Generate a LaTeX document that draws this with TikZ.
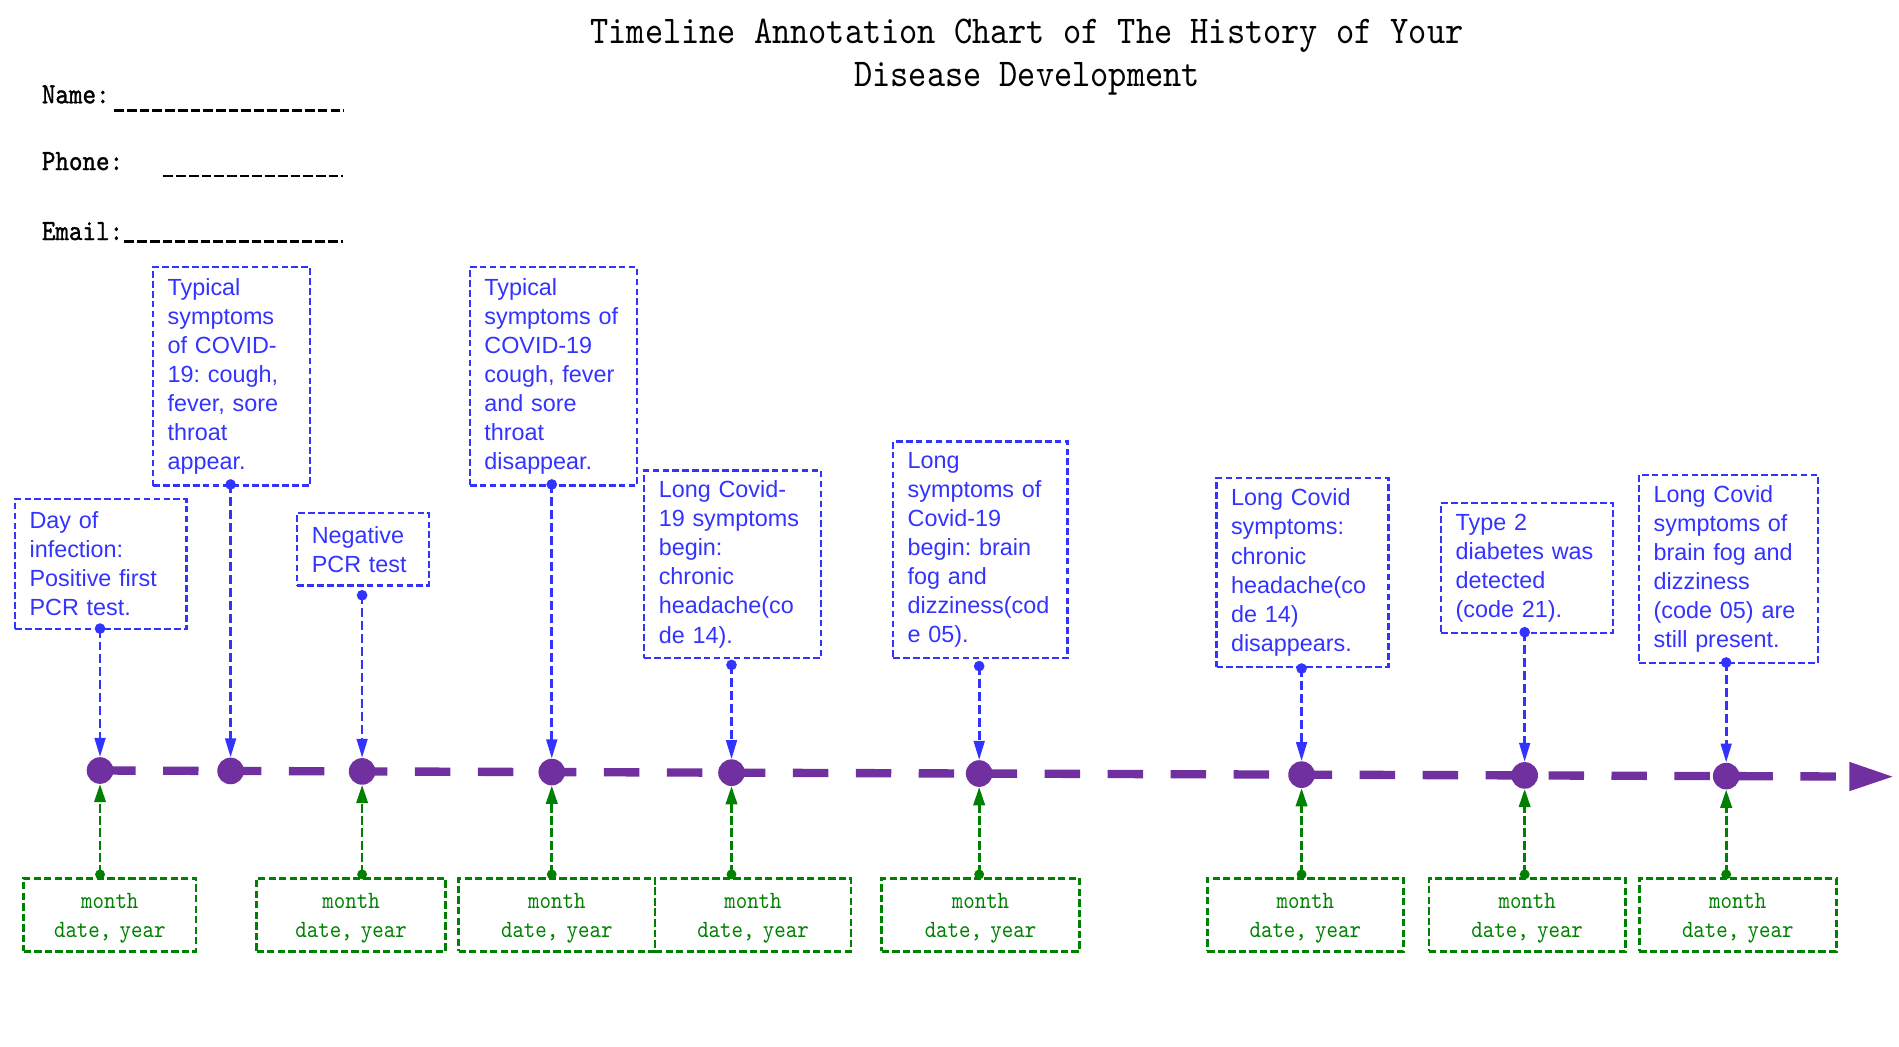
\documentclass[tikz,border=0pt]{standalone}
\usepackage{fontspec}
\usetikzlibrary{arrows.meta}
\newfontfamily\boxsans{Liberation Sans}
\newfontfamily\simmono[FakeStretch=0.88]{lmmono10-regular.otf}
\newfontfamily\simmonob[FakeStretch=0.88,FakeBold=1.2]{lmmono10-regular.otf}
\definecolor{bblue}{RGB}{51,51,255}
\definecolor{ppurple}{RGB}{112,48,160}
\definecolor{ggreen}{RGB}{0,128,0}
\tikzset{
  ttl/.style={font={\simmono\fontsize{32.5pt}{36pt}\selectfont}, anchor=base, inner sep=0pt},
  lbl/.style={font={\simmonob\fontsize{24.2pt}{28pt}\selectfont}, anchor=base west, inner sep=0pt},
  uline/.style={draw=black, line width=2.2pt, dash pattern=on 8pt off 2.5pt},
  bbox/.style={draw=bblue, line width=1.9pt, dash pattern=on 5.5pt off 2.7pt, text=bblue,
    font={\boxsans\fontsize{19.3pt}{24pt}\selectfont\frenchspacing}, align=left, anchor=north west,
    inner xsep=12pt, inner ysep=0pt},
  gbox/.style={draw=ggreen, line width=2.2pt, dash pattern=on 6pt off 2.7pt, text=ggreen,
    font={\simmono\fontsize{20.5pt}{24pt}\selectfont\frenchspacing}, align=center, anchor=north west,
    inner xsep=4pt, inner ysep=0pt, minimum height=60.5pt},
  pdot/.style={circle, inner sep=0pt, minimum size=22pt},
  timeline/.style={draw=ppurple, line width=6.9pt, dash pattern=on 29.3pt off 22.7pt,
    -{Triangle[length=37pt,width=22pt]}},
  bconn/.style={draw=bblue, line width=2.2pt, dash pattern=on 7.4pt off 3.3pt,
    -{Triangle[length=15.7pt,width=8.8pt]}},
  gconn/.style={draw=ggreen, line width=2.2pt, dash pattern=on 7.4pt off 2.8pt,
    -{Triangle[length=15pt,width=9.4pt]}},
}
\newcommand{\mdy}{\rule{0pt}{18pt}month\\date, year}
\begin{document}
\frenchspacing
\begin{tikzpicture}[x=1pt,y=-1pt]
\useasboundingbox (0,0) rectangle (1568,864.5);

% title
\node[ttl] (t1) at (848,35.8) {Timeline Annotation Chart of The History of Your};
\node[ttl] (t2) at (848,71.6) {Disease Development};

% form fields
\node[lbl] (nm) at (34.4,85.3) {Name:};
\node[lbl] (ph) at (34.4,140.4) {Phone:};
\node[lbl] (em) at (34.4,198.2) {Email:};
\coordinate (nm1) at (94.4,91.4);  \coordinate (nm2) at (283.5,91.4);
\coordinate (ph1) at (134.9,145.3); \coordinate (ph2) at (283.5,145.3);
\coordinate (em1) at (102.7,199.6); \coordinate (em2) at (283.5,199.6);
\draw[uline] (nm1) -- (nm2);
\draw[uline] (ph1) -- (ph2);
\draw[uline] (em1) -- (em2);

% timeline
\coordinate (tip) at (1564,641.3);
\node[pdot] (d1) at (82.6,636.2) {};
\node[pdot] (d2) at (190.4,636.57) {};
\node[pdot] (d3) at (299,636.95) {};
\node[pdot] (d4) at (455.6,637.48) {};
\node[pdot] (d5) at (604,638.0) {};
\node[pdot] (d6) at (808.5,638.7) {};
\node[pdot] (d7) at (1074.7,639.62) {};
\node[pdot] (d8) at (1258.9,640.25) {};
\node[pdot] (d9) at (1425.3,640.82) {};
\draw[timeline] (d1.center) -- (tip);
\foreach \i in {1,...,9}
  \fill[ppurple] (d\i.center) circle[radius=11pt];

% blue annotation boxes
\node[bbox, text width=117.5pt, minimum height=107.5pt] (b1) at (11.5,411)
  {Day of\\infection:\\Positive first\\PCR test.};
\node[bbox, text width=105.5pt, minimum height=180.5pt] (b2) at (125.5,219.5)
  {Typical\\symptoms\\of COVID-\\19: cough,\\fever, sore\\throat\\appear.};
\node[bbox, text width=84.5pt, minimum height=60pt] (b3) at (244.5,422.5)
  {Negative\\PCR test};
\node[bbox, text width=114pt, minimum height=180.5pt] (b4) at (387,219.5)
  {Typical\\symptoms of\\COVID-19\\cough, fever\\and sore\\throat\\disappear.};
\node[bbox, text width=122pt, minimum height=155pt] (b5) at (531,387.5)
  {Long Covid-\\19 symptoms\\begin:\\chronic\\headache(co\\de 14).};
\node[bbox, text width=120pt, minimum height=179pt] (b6) at (736.5,363.5)
  {Long\\symptoms of\\Covid-19\\begin: brain\\fog and\\dizziness(cod\\e 05).};
\node[bbox, text width=118pt, minimum height=155.5pt] (b7) at (1003.5,394)
  {Long Covid\\symptoms:\\chronic\\headache(co\\de 14)\\disappears.};
\node[bbox, text width=118pt, minimum height=107pt] (b8) at (1189,414.5)
  {Type 2\\diabetes was\\detected\\(code 21).};
\node[bbox, text width=123.5pt, minimum height=155.5pt] (b9) at (1352.5,391)
  {Long Covid\\symptoms of\\brain fog and\\dizziness\\(code 05) are\\still present.};

% blue connectors
\coordinate (s1) at (82.6,519);
\coordinate (s2) at (190.4,400);
\coordinate (s3) at (299,491.5);
\coordinate (s4) at (455.6,400);
\coordinate (s5) at (604,549);
\coordinate (s6) at (808.5,550);
\coordinate (s7) at (1074.7,552);
\coordinate (s8) at (1258.9,522);
\coordinate (s9) at (1425.3,547);
\foreach \i in {1,...,9}{
  \draw[bconn] (s\i) -- (d\i);
  \fill[bblue] (s\i) circle[radius=4.4pt];
}

% green date boxes
\node[gbox, text width=134.1pt] (g1) at (18.5,724) {\mdy};
\node[gbox, text width=148pt] (g2) at (210.8,724) {\mdy};
\node[gbox, text width=154.3pt] (g3) at (377.5,724) {\mdy};
\node[gbox, text width=153.7pt] (g4) at (539.8,724) {\mdy};
\node[gbox, text width=155pt] (g5) at (727,724) {\mdy};
\node[gbox, text width=154pt] (g6) at (995.7,724) {\mdy};
\node[gbox, text width=154.2pt] (g7) at (1178.8,724) {\mdy};
\node[gbox, text width=154.5pt] (g8) at (1352.5,724) {\mdy};

% green connectors
\coordinate (e1) at (82.6,722);
\coordinate (e3) at (299,722);
\coordinate (e4) at (455.6,722);
\coordinate (e5) at (604,722);
\coordinate (e6) at (808.5,722);
\coordinate (e7) at (1074.7,722);
\coordinate (e8) at (1258.9,722);
\coordinate (e9) at (1425.3,722);
\foreach \i in {1,3,4,5,6,7,8,9}{
  \draw[gconn] (e\i) -- (d\i);
  \fill[ggreen] (e\i) circle[radius=4.1pt];
}
\end{tikzpicture}
\end{document}
